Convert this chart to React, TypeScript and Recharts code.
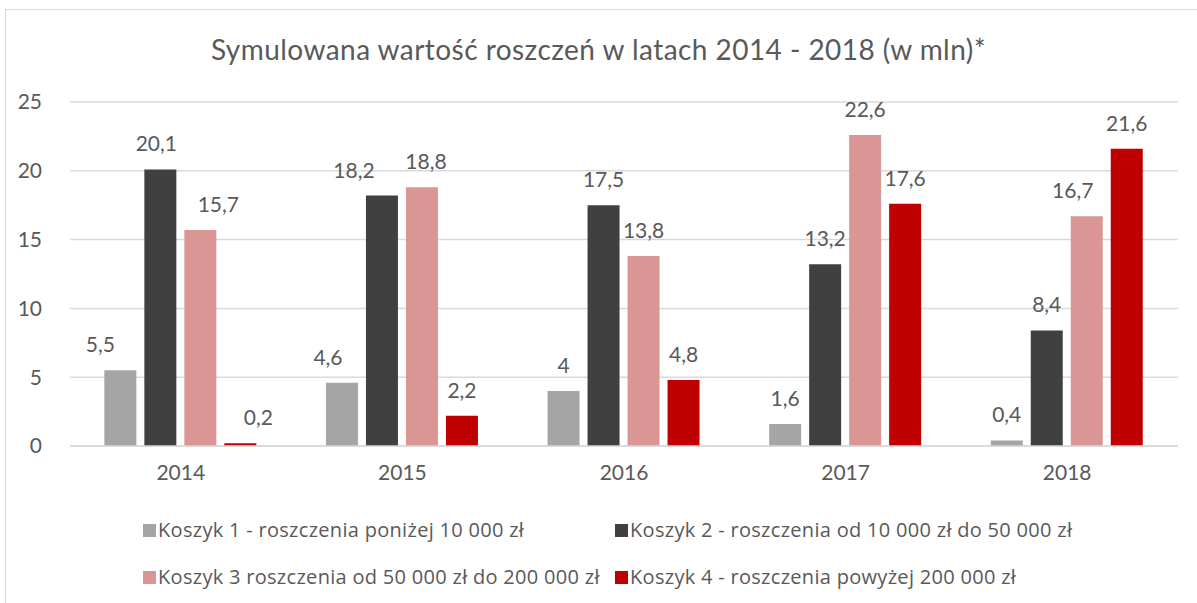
import React from 'react';
import { BarChart, Bar, XAxis, YAxis, CartesianGrid, LabelList } from 'recharts';

const years = ['2014', '2015', '2016', '2017', '2018'];
const koszyk1 = [5.5, 4.6, 4, 1.6, 0.4];
const koszyk2 = [20.1, 18.2, 17.5, 13.2, 8.4];
const koszyk3 = [15.7, 18.8, 13.8, 22.6, 16.7];
const koszyk4 = [0.2, 2.2, 4.8, 17.6, 21.6];
const yTicks = [0, 5, 10, 15, 20, 25];
const seriesNames = [
  'Koszyk 1 - roszczenia poniżej 10 000 zł',
  'Koszyk 2 - roszczenia od 10 000 zł do 50 000 zł',
  'Koszyk 3 roszczenia od 50 000 zł do 200 000 zł',
  'Koszyk 4 - roszczenia powyżej 200 000 zł',
];
const title = 'Symulowana wartość roszczeń w latach 2014 - 2018 (w mln)*';

const colors = ['#A5A5A5', '#404040', '#D99694', '#C00000'];
const keys = ['k1', 'k2', 'k3', 'k4'];
// horizontal label nudges (style only), per series, per year
const labelDx = [
  [-20, -14, 0, 0, 0],
  [-4, -28, 0, 0, 0],
  [18, 4, 0, 0, -14],
  [18, 0, 0, 0, 0],
];

const data = years.map((y, i) => ({
  year: y,
  k1: koszyk1[i],
  k2: koszyk2[i],
  k3: koszyk3[i],
  k4: koszyk4[i],
}));

const font = 'Lato, "Open Sans", sans-serif';
const legendFont = '"Open Sans", Lato, sans-serif';
const textColor = '#595959';
const fmt = (v: any) => String(v).replace('.', ',');

const makeLabel = (si: number) => (props: any) => {
  const { x, y, width, value, index } = props;
  const dx = labelDx[si][index] || 0;
  return (
    <text
      x={Number(x) + Number(width) / 2 + dx}
      y={Number(y) - 18}
      textAnchor="middle"
      fill={textColor}
      fontSize={21}
      fontFamily={font}
    >
      {fmt(value)}
    </text>
  );
};

export default function App() {
  const legendPos = [
    { left: 143, top: 516 },
    { left: 615, top: 516 },
    { left: 143, top: 563 },
    { left: 615, top: 563 },
  ];
  return (
    <div style={{ position: 'absolute', left: 0, top: 0, width: 1197, height: 603, background: '#fff', fontFamily: font }}>
      <div style={{ position: 'absolute', left: 5, top: 9, width: 1200, height: 600, border: '1px solid #D9D9D9', boxSizing: 'border-box' }} />
      <div style={{ position: 'absolute', left: 0, top: 32, width: 1197, textAlign: 'center', fontSize: 28, letterSpacing: 0.45, lineHeight: '34px', color: textColor, whiteSpace: 'nowrap' }}>{title}</div>
      <div style={{ position: 'absolute', left: 0, top: 0 }}>
        <BarChart
          width={1197}
          height={603}
          data={data}
          margin={{ top: 102, right: 19, left: 20, bottom: 117 }}
          barCategoryGap="15.5%"
          barGap={8}
        >
          <CartesianGrid vertical={false} stroke="#D9D9D9" strokeWidth={1.5} />
          <XAxis
            dataKey="year"
            tickLine={false}
            axisLine={{ stroke: '#D9D9D9', strokeWidth: 1.5 }}
            tick={{ fill: textColor, fontSize: 21, fontFamily: font }}
            tickMargin={13}
            height={40}
          />
          <YAxis
            domain={[0, 25]}
            ticks={yTicks}
            axisLine={false}
            tickLine={false}
            tick={{ fill: textColor, fontSize: 21, fontFamily: font }}
            width={50}
            tickMargin={22}
          />
          {keys.map((k, i) => (
            <Bar key={k} dataKey={k} fill={colors[i]} isAnimationActive={false}>
              <LabelList dataKey={k} content={makeLabel(i)} />
            </Bar>
          ))}
        </BarChart>
      </div>
      {seriesNames.map((n, i) => (
        <div key={n} style={{ position: 'absolute', left: legendPos[i].left, top: legendPos[i].top, display: 'flex', alignItems: 'center', fontSize: 20, letterSpacing: 0.3, lineHeight: '28px', fontFamily: legendFont, color: textColor, whiteSpace: 'nowrap' }}>
          <span style={{ display: 'inline-block', width: 13, height: 13, background: colors[i], marginRight: 2 }} />
          <span>{n}</span>
        </div>
      ))}
    </div>
  );
}
